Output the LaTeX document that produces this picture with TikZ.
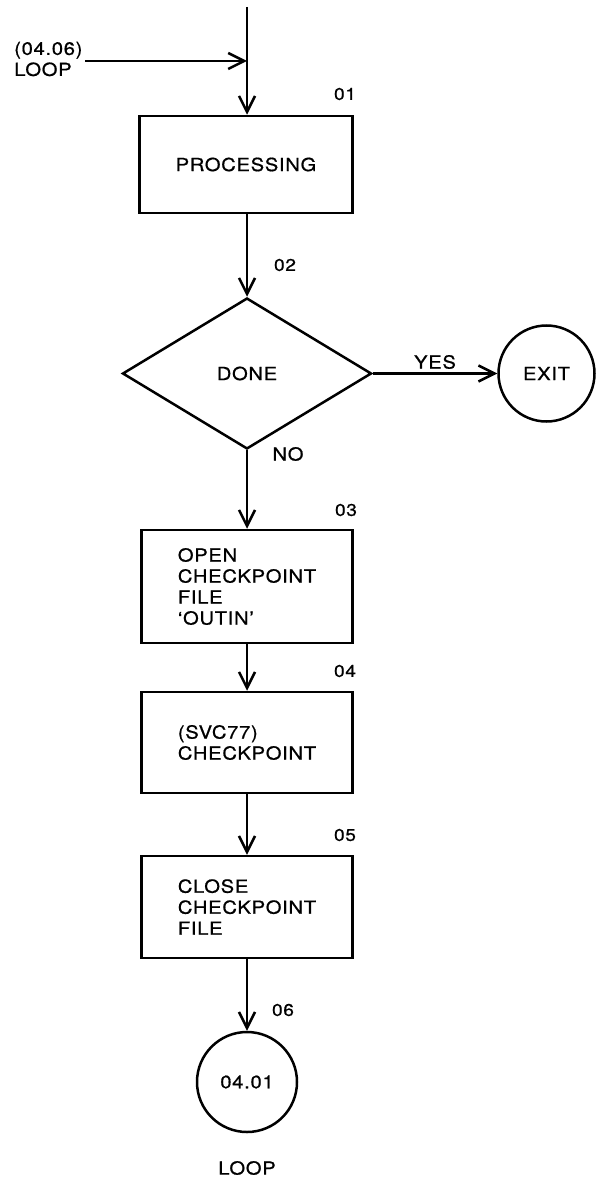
\documentclass[tikz,border=0pt]{standalone}
\usepackage{fontspec}
\setmainfont{TeX Gyre Heros}[LetterSpace=4,FakeStretch=1.12,FakeBold=0.8]
\usetikzlibrary{shapes.geometric,arrows.meta}
\begin{document}
\begin{tikzpicture}[x=1pt,y=-1pt,
  line width=2.5pt,
  every node/.style={font=\fontsize{18}{21}\selectfont, inner sep=0pt},
  box/.style={draw, rectangle, minimum width=211pt, align=left},
  dec/.style={draw, diamond, minimum width=249pt, minimum height=151pt},
  term/.style={draw, circle},
  lab/.style={font=\fontsize{17}{20}\selectfont},
  arr/.style={-{Straight Barb[length=16pt,width=16pt]}}
]
\useasboundingbox (0,0) rectangle (597,1182);

\coordinate (top) at (247,7);
\coordinate (join) at (247,61);
\coordinate (loopin) at (85,61);
\node[anchor=west, align=left] (looplab) at (13,59) {(04.06)\\LOOP};

\node[box, minimum width=213pt, minimum height=97pt] (p01) at (246,164.5) {PROCESSING};
\node[lab] (n01) at (345,94) {01};

\node[dec] (p02) at (247,373.5) {DONE};
\node[lab] (n02) at (285,265) {02};
\node[term, minimum size=96pt] (exit) at (546.5,373.5) {EXIT};
\node (yes) at (435,362) {YES};
\node (no) at (288,454) {NO};

\node[box, minimum height=113pt] (p03) at (247,586.5) {OPEN\\CHECKPOINT\\FILE\\`OUTIN'};
\node[lab] (n03) at (346,510) {03};

\node[box, minimum height=101pt] (p04) at (247,742.5) {(SVC77)\\CHECKPOINT};
\node[lab] (n04) at (345,671) {04};

\node[lab] (n05) at (345,835) {05};
\node[box, minimum height=102pt] (p05) at (247,907) {CLOSE\\CHECKPOINT\\FILE};

\node[lab] (n06) at (283,1010) {06};
\node[term, minimum size=100pt] (p06) at (247,1082) {04.01};
\node (loop) at (247,1168) {LOOP};

\draw (top) -- (join);
\draw[arr] (loopin) -- (join);
\draw[arr] (join) -- (join |- p01.north);
\draw[arr] (p01.south -| p02.north) -- (p02.north);
\draw[arr] (p02.east) -- (exit.west);
\draw[arr] (p02) -- (p03);
\draw[arr] (p03) -- (p04);
\draw[arr] (p04) -- (p05);
\draw[arr] (p05) -- (p06);
\end{tikzpicture}
\end{document}
